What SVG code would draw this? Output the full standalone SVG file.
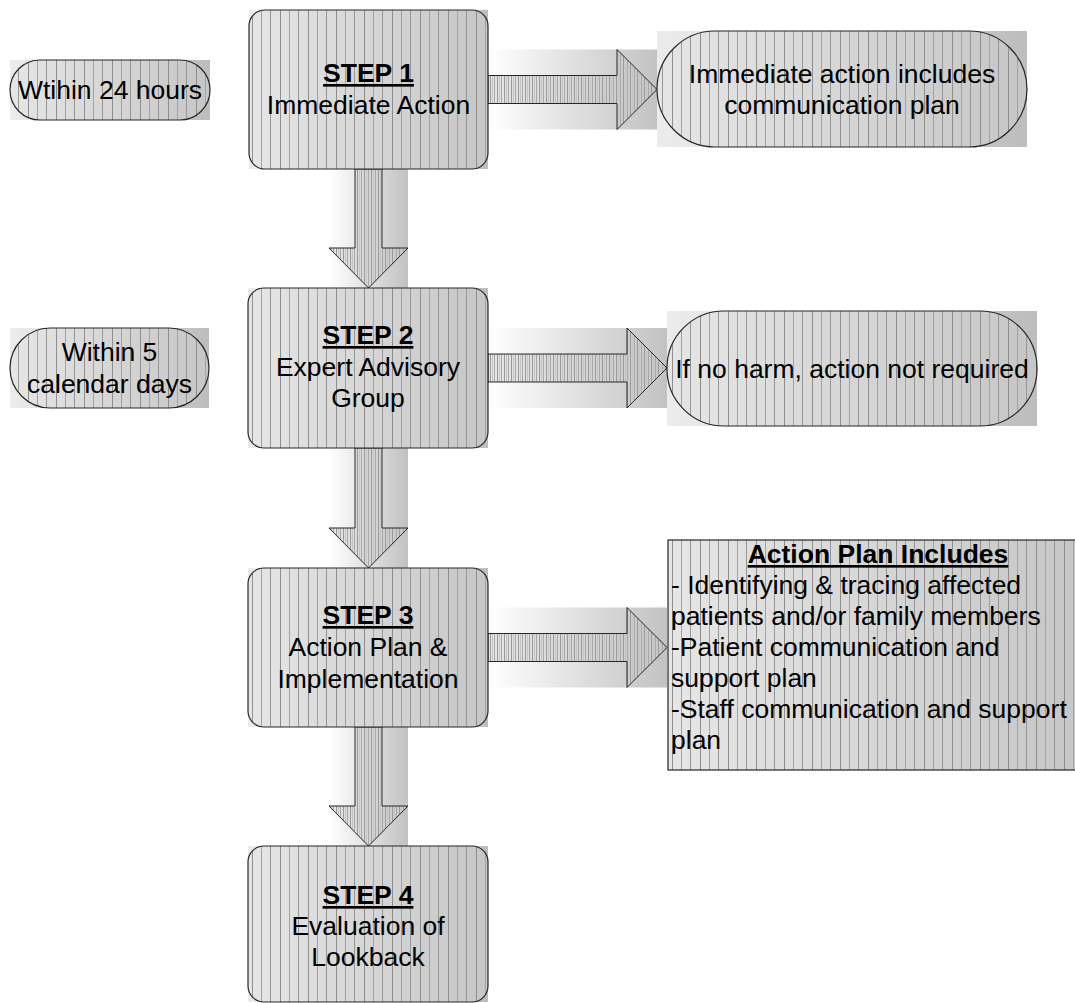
<svg xmlns="http://www.w3.org/2000/svg" width="1075" height="1003" viewBox="0 0 1075 1003">
<defs>
<linearGradient id="bg" x1="0" y1="0" x2="1" y2="0"><stop offset="0" stop-color="#ececec"/><stop offset="1" stop-color="#bdbdbd"/></linearGradient>
<linearGradient id="bgA" x1="0" y1="0" x2="1" y2="0"><stop offset="0" stop-color="#ffffff"/><stop offset="1" stop-color="#c2c2c2"/></linearGradient>
<linearGradient id="fill" x1="0" y1="0" x2="1" y2="0"><stop offset="0" stop-color="#e6e6e6"/><stop offset="1" stop-color="#c6c6c6"/></linearGradient>
<pattern id="str" patternUnits="userSpaceOnUse" width="28" height="10">
<line x1="0.5" y1="0" x2="0.5" y2="10" stroke="#8e8e8e" stroke-width="1"/>
<line x1="9.5" y1="0" x2="9.5" y2="10" stroke="#a2a2a2" stroke-width="1"/>
<line x1="18.5" y1="0" x2="18.5" y2="10" stroke="#969696" stroke-width="1"/>
</pattern>
<pattern id="dstr" patternUnits="userSpaceOnUse" width="7" height="10">
<line x1="0.5" y1="0" x2="0.5" y2="10" stroke="#9a9a9a" stroke-width="1"/>
<line x1="2.5" y1="0" x2="2.5" y2="10" stroke="#c4c4c4" stroke-width="1"/>
<line x1="4.5" y1="0" x2="4.5" y2="10" stroke="#a8a8a8" stroke-width="1"/>
</pattern>
</defs>
<style>
.bg{fill:url(#bg)}
.bga{fill:url(#bgA)}
.sh{fill:url(#fill)}
.st{fill:url(#str);stroke:#262626;stroke-width:1.2}
.ah{fill:url(#fill)}
.as{fill:url(#dstr);stroke:#262626;stroke-width:1}
.t{font-family:"Liberation Sans",Arial,Helvetica,sans-serif;font-size:26.5px;fill:#000;text-anchor:middle}
.l{text-anchor:start}
.b{font-weight:bold;text-decoration:underline}
</style>
<g id="connectors">
<g id="a1">
<rect class="bga" x="329" y="169" width="79" height="119"/>
<polygon class="ah" points="355,169 382,169 382,248 408,248 368.5,288 329,248 355,248"/>
<polygon class="as" points="355,169 382,169 382,248 408,248 368.5,288 329,248 355,248"/>
</g>
<g id="a2">
<rect class="bga" x="329" y="448" width="79" height="120"/>
<polygon class="ah" points="355,448 382,448 382,528 408,528 368.5,568 329,528 355,528"/>
<polygon class="as" points="355,448 382,448 382,528 408,528 368.5,568 329,528 355,528"/>
</g>
<g id="a3">
<rect class="bga" x="329" y="727" width="79" height="119"/>
<polygon class="ah" points="355,727 382,727 382,806 408,806 368.5,846 329,806 355,806"/>
<polygon class="as" points="355,727 382,727 382,806 408,806 368.5,846 329,806 355,806"/>
</g>
<g id="r1">
<rect class="bga" x="488" y="49.5" width="169" height="80"/>
<polygon class="ah" points="488,75.5 617,75.5 617,49.5 657,89.5 617,129.5 617,103.5 488,103.5"/>
<polygon class="as" points="488,75.5 617,75.5 617,49.5 657,89.5 617,129.5 617,103.5 488,103.5"/>
</g>
<g id="r2">
<rect class="bga" x="488" y="328" width="179" height="80"/>
<polygon class="ah" points="488,354 627,354 627,328 667,368 627,408 627,382 488,382"/>
<polygon class="as" points="488,354 627,354 627,328 667,368 627,408 627,382 488,382"/>
</g>
<g id="r3">
<rect class="bga" x="488" y="607.5" width="179" height="80"/>
<polygon class="ah" points="488,633.5 627,633.5 627,607.5 667,647.5 627,687.5 627,661.5 488,661.5"/>
<polygon class="as" points="488,633.5 627,633.5 627,607.5 667,647.5 627,687.5 627,661.5 488,661.5"/>
</g>
</g>
<g id="within24">
<rect class="bg" x="10" y="60" width="200" height="60"/>
<rect class="sh" x="10" y="60" width="200" height="60" rx="30"/>
<rect class="st" x="10" y="60" width="200" height="60" rx="30"/>
<text class="t" x="110" y="99">Wtihin 24 hours</text>
</g>
<g id="within5">
<rect class="bg" x="10" y="328" width="199" height="80"/>
<rect class="sh" x="10" y="328" width="199" height="80" rx="40"/>
<rect class="st" x="10" y="328" width="199" height="80" rx="40"/>
<text class="t" x="109.5" y="361">Within 5</text>
<text class="t" x="109.5" y="393">calendar days</text>
</g>
<g id="step1">
<rect class="bg" x="249" y="10" width="239" height="159"/>
<rect class="sh" x="249" y="10" width="239" height="159" rx="16"/>
<rect class="st" x="249" y="10" width="239" height="159" rx="16"/>
<text class="t b" x="368.5" y="82">STEP 1</text>
<text class="t" x="368.5" y="114">Immediate Action</text>
</g>
<g id="step2">
<rect class="bg" x="248" y="288" width="240" height="160"/>
<rect class="sh" x="248" y="288" width="240" height="160" rx="16"/>
<rect class="st" x="248" y="288" width="240" height="160" rx="16"/>
<text class="t b" x="368" y="344">STEP 2</text>
<text class="t" x="368" y="376">Expert Advisory</text>
<text class="t" x="368" y="407">Group</text>
</g>
<g id="step3">
<rect class="bg" x="248" y="568" width="240" height="159"/>
<rect class="sh" x="248" y="568" width="240" height="159" rx="16"/>
<rect class="st" x="248" y="568" width="240" height="159" rx="16"/>
<text class="t b" x="368" y="624">STEP 3</text>
<text class="t" x="368" y="656">Action Plan &amp;</text>
<text class="t" x="368" y="688">Implementation</text>
</g>
<g id="step4">
<rect class="bg" x="248" y="846" width="240" height="156"/>
<rect class="sh" x="248" y="846" width="240" height="156" rx="16"/>
<rect class="st" x="248" y="846" width="240" height="156" rx="16"/>
<text class="t b" x="368" y="904">STEP 4</text>
<text class="t" x="368" y="935">Evaluation of</text>
<text class="t" x="368" y="966">Lookback</text>
</g>
<g id="immediate">
<rect class="bg" x="657" y="31" width="370" height="116"/>
<rect class="sh" x="657" y="31" width="370" height="116" rx="58"/>
<rect class="st" x="657" y="31" width="370" height="116" rx="58"/>
<text class="t" x="842" y="83">Immediate action includes</text>
<text class="t" x="842" y="114">communication plan</text>
</g>
<g id="noharm">
<rect class="bg" x="667" y="311" width="370" height="115"/>
<rect class="sh" x="667" y="311" width="370" height="115" rx="57"/>
<rect class="st" x="667" y="311" width="370" height="115" rx="57"/>
<text class="t" x="852" y="378">If no harm, action not required</text>
</g>
<g id="actionplan">
<rect class="sh" x="668" y="540" width="420" height="230"/>
<rect class="st" x="668" y="540" width="420" height="230"/>
<text class="t b" x="878" y="563">Action Plan Includes</text>
<text class="t l" x="671" y="594">- Identifying &amp; tracing affected</text>
<text class="t l" x="671" y="625">patients and/or family members</text>
<text class="t l" x="671" y="656">-Patient communication and</text>
<text class="t l" x="671" y="687">support plan</text>
<text class="t l" x="671" y="718">-Staff communication and support</text>
<text class="t l" x="671" y="749">plan</text>
</g>
</svg>
